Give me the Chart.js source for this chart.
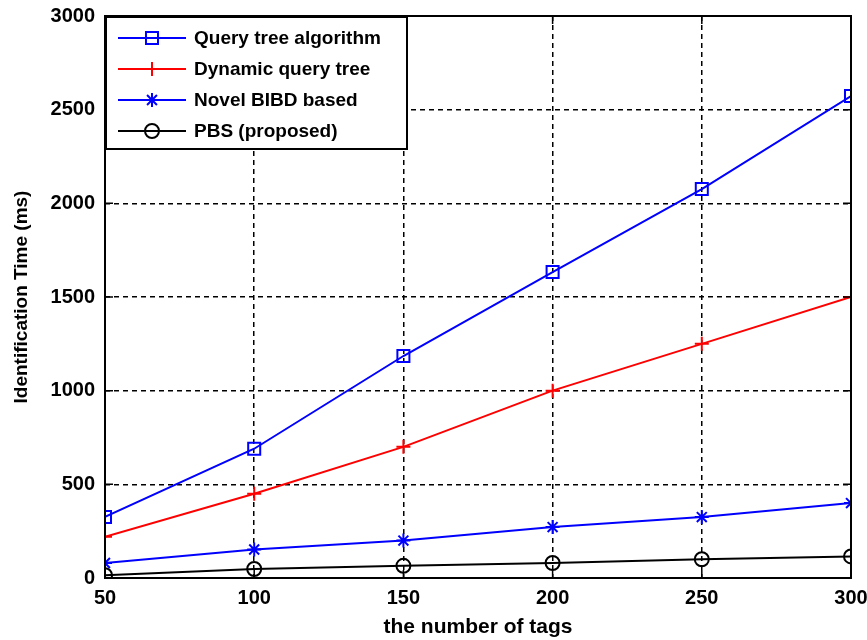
<!DOCTYPE html>
<html>
<head>
<meta charset="utf-8">
<script src="https://cdn.jsdelivr.net/npm/chart.js@4.4.0/dist/chart.umd.min.js"></script>
<style>
  html, body { margin: 0; padding: 0; background: #fff; }
  #wrap { width: 867px; height: 640px; }
</style>
</head>
<body>
<div id="wrap"><canvas id="chart"></canvas></div>
<script>
// data
var tags = [50, 100, 150, 200, 250, 300];
var queryTree = [326, 690, 1185, 1633, 2076, 2573];
var dynamicTree = [220, 450, 700, 1000, 1250, 1500];
var novelBibd = [80, 152, 200, 272, 325, 400];
var pbs = [15, 48, 65, 80, 100, 115];

var seriesNames = ['Query tree algorithm', 'Dynamic query tree', 'Novel BIBD based', 'PBS (proposed)'];
var seriesColors = ['#0000ff', '#ff0000', '#0000ff', '#000000'];
var seriesMarkers = ['rect', 'cross', 'star', 'circle'];
var markerSizes = [8.5, 7, 7, 7];

var FONT = '"Liberation Sans", Arial, sans-serif';

function pts(vals) {
    return tags.map(function (t, i) { return { x: t, y: vals[i] }; });
}

var allSeries = [queryTree, dynamicTree, novelBibd, pbs];
var datasets = allSeries.map(function (vals, i) {
    return {
        label: seriesNames[i],
        data: pts(vals),
        borderColor: seriesColors[i],
        backgroundColor: 'rgba(0,0,0,0)',
        borderWidth: 2,
        pointStyle: seriesMarkers[i],
        pointRadius: markerSizes[i],
        pointBorderColor: seriesColors[i],
        pointBorderWidth: 2,
        pointBackgroundColor: 'rgba(0,0,0,0)',
        tension: 0
    };
});

// box around the plot, inward ticks, legend inside top-left
var matlabFrame = {
    id: 'matlabFrame',
    afterDatasetsDraw: function (chart) {
        var ctx = chart.ctx, a = chart.chartArea;
        var xs = chart.scales.x, ys = chart.scales.y;
        ctx.save();
        ctx.strokeStyle = '#000';
        ctx.lineWidth = 2;
        ctx.setLineDash([]);
        ctx.strokeRect(a.left, a.top, a.right - a.left, a.bottom - a.top);

        ctx.lineWidth = 1.5;
        ctx.beginPath();
        xs.ticks.forEach(function (t) {
            var px = xs.getPixelForValue(t.value);
            ctx.moveTo(px, a.bottom); ctx.lineTo(px, a.bottom - 8);
            ctx.moveTo(px, a.top); ctx.lineTo(px, a.top + 8);
        });
        ys.ticks.forEach(function (t) {
            var py = ys.getPixelForValue(t.value);
            ctx.moveTo(a.left, py); ctx.lineTo(a.left + 8, py);
            ctx.moveTo(a.right, py); ctx.lineTo(a.right - 8, py);
        });
        ctx.stroke();

        // legend
        var bx = a.left + 1, by = a.top + 1, bw = 301, bh = 132;
        ctx.fillStyle = '#fff';
        ctx.fillRect(bx, by, bw, bh);
        ctx.lineWidth = 2;
        ctx.strokeRect(bx, by, bw, bh);
        ctx.font = 'bold 19px ' + FONT;
        ctx.textBaseline = 'middle';
        chart.data.datasets.forEach(function (ds, i) {
            var yy = by + 21 + i * 31;
            ctx.strokeStyle = ds.borderColor;
            ctx.lineWidth = 2;
            ctx.beginPath();
            ctx.moveTo(bx + 12, yy);
            ctx.lineTo(bx + 80, yy);
            ctx.stroke();
            ctx.fillStyle = 'rgba(0,0,0,0)';
            Chart.helpers.drawPoint(ctx, {
                pointStyle: ds.pointStyle,
                radius: ds.pointRadius,
                rotation: 0,
                borderWidth: 2
            }, bx + 46, yy);
            ctx.fillStyle = '#000';
            ctx.fillText(ds.label, bx + 88, yy + 1);
        });
        ctx.restore();
    }
};

function plainTick(v) { return String(v); }

new Chart(document.getElementById('chart'), {
    type: 'line',
    data: { datasets: datasets },
    plugins: [matlabFrame],
    options: {
        responsive: true,
        maintainAspectRatio: false,
        animation: false,
        layout: { padding: { top: 16, right: 16, left: 0, bottom: 0 } },
        plugins: {
            legend: { display: false },
            tooltip: { enabled: false }
        },
        scales: {
            x: {
                type: 'linear',
                min: 50,
                max: 300,
                ticks: {
                    stepSize: 50,
                    color: '#000',
                    padding: 8,
                    maxRotation: 0,
                    callback: plainTick,
                    font: { family: FONT, size: 20, weight: 'bold' }
                },
                grid: { color: '#000', lineWidth: 1.5, drawTicks: false },
                border: { display: false, dash: [5, 4] },
                title: {
                    display: true,
                    text: 'the number of tags',
                    color: '#000',
                    padding: { top: 0, bottom: 0 },
                    font: { family: FONT, size: 21, weight: 'bold' }
                },
                afterFit: function (s) {
                    s.height = 62;
                    s.paddingLeft = 0;
                    s.paddingRight = 0;
                }
            },
            y: {
                min: 0,
                max: 3000,
                ticks: {
                    stepSize: 500,
                    color: '#000',
                    padding: 10,
                    callback: plainTick,
                    font: { family: FONT, size: 20, weight: 'bold' }
                },
                grid: { color: '#000', lineWidth: 1.5, drawTicks: false },
                border: { display: false, dash: [5, 4] },
                title: {
                    display: true,
                    text: 'Identification Time (ms)',
                    color: '#000',
                    padding: { top: 10, bottom: 0 },
                    font: { family: FONT, size: 19, weight: 'bold' }
                },
                afterFit: function (s) {
                    s.width = 105;
                    s.paddingTop = 0;
                    s.paddingBottom = 0;
                }
            }
        }
    }
});
</script>
</body>
</html>
